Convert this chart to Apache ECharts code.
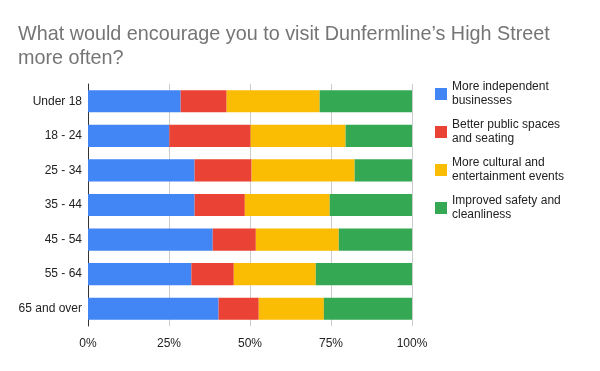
<!DOCTYPE html>
<html><head><meta charset="utf-8">
<script src="https://cdn.jsdelivr.net/npm/echarts@6/dist/echarts.min.js"></script>
<style>html,body{margin:0;padding:0;background:#fff}#c{width:600px;height:371px}</style>
</head><body><div id="c"></div>
<script>
const categories = ['Under 18','18 - 24','25 - 34','35 - 44','45 - 54','55 - 64','65 and over'];
const seriesNames = ['More independent\nbusinesses','Better public spaces\nand seating','More cultural and\nentertainment events','Improved safety and\ncleanliness'];
const independent = [28.6,25.1,32.9,32.9,38.5,31.9,40.3];
const publicSpaces = [14.2,25.1,17.6,15.5,13.3,13.1,12.4];
const cultural = [28.7,29.3,31.8,26.2,25.6,25.3,20.1];
const safety = [28.5,20.5,17.7,25.4,22.6,29.7,27.2];
const xTicks = ['0%','25%','50%','75%','100%'];
const colors = ['#4285f4','#ea4335','#fbbc04','#34a853'];
const FONT = '"Liberation Sans", Arial, sans-serif';

const chart = echarts.init(document.getElementById('c'), null, {renderer:'canvas'});
const dataSets = [independent, publicSpaces, cultural, safety];
chart.setOption({
  animation:false,
  title:{text:"What would encourage you to visit Dunfermline’s High Street\nmore often?",left:13,top:18,
    textStyle:{fontFamily:FONT,fontSize:19.8,fontWeight:'normal',color:'#757575',lineHeight:24}},
  grid:{left:88,right:188,top:84,bottom:45},
  legend:{orient:'vertical',left:430,top:68,itemWidth:12,itemHeight:12,itemGap:-4,icon:'rect',
    data:seriesNames,
    textStyle:{fontFamily:FONT,fontSize:12,color:'#222',lineHeight:14,padding:[14,0,0,0]}},
  xAxis:{type:'value',min:0,max:100,interval:25,
    axisLabel:{formatter:v=>xTicks[v/25],fontFamily:FONT,fontSize:12,color:'#222',margin:12},
    axisLine:{show:false},axisTick:{show:false},
    splitLine:{lineStyle:{color:'#cccccc',width:1}}},
  yAxis:{type:'category',inverse:true,data:categories,
    axisLine:{lineStyle:{color:'#333',width:1}},axisTick:{show:false},
    axisLabel:{fontFamily:FONT,fontSize:12,color:'#222',margin:6}},
  series: seriesNames.map((n,i)=>({name:n,type:'bar',stack:'s',barCategoryGap:'36%',
    itemStyle:{color:colors[i]},data:dataSets[i]}))
});
</script></body></html>
